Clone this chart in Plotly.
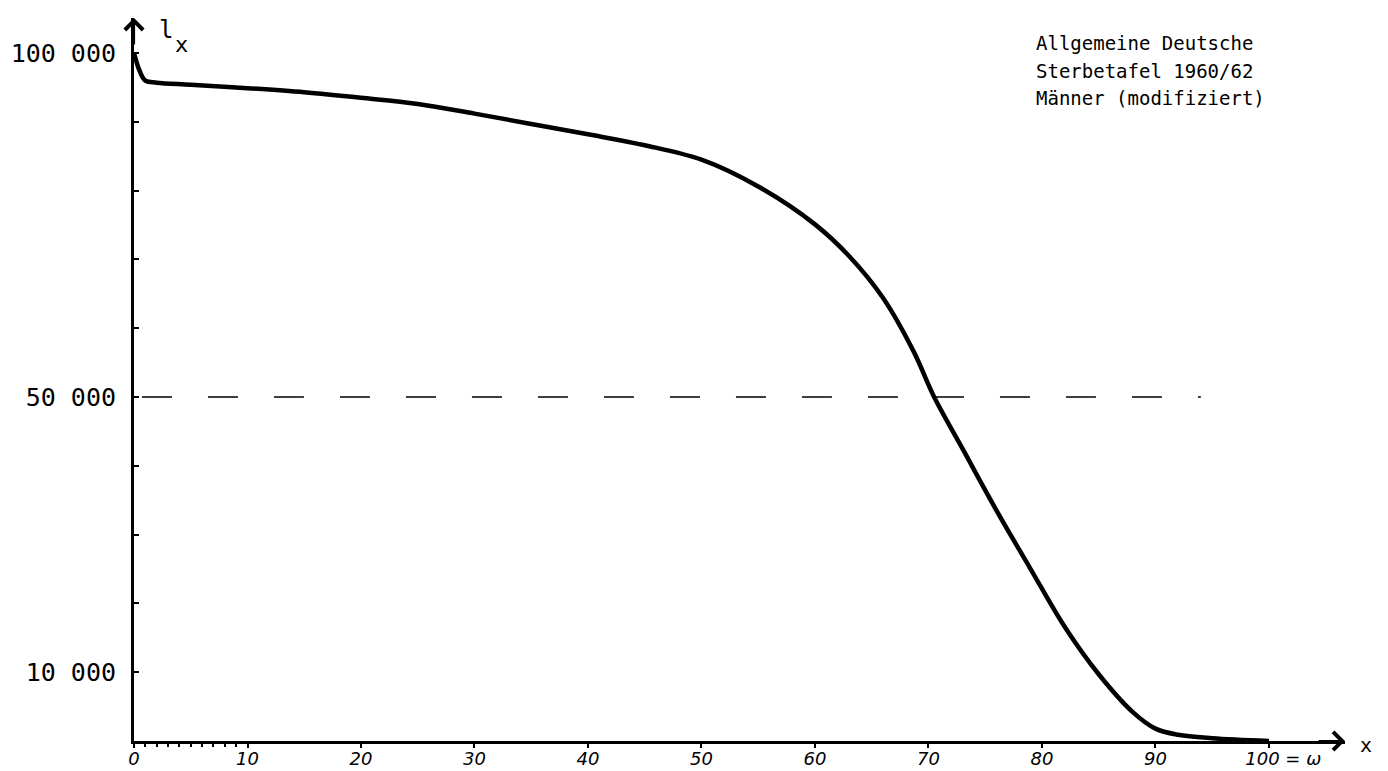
import plotly.graph_objects as go

# Survival curve l_x
ages = [0, 0.5, 1, 2, 5, 10, 15, 20, 25, 30, 35, 40, 45, 50, 55, 60, 63, 66,
        68.7, 70.5, 73, 76, 79, 82, 85, 88, 90, 92, 95, 100]
lx = [100000, 97400, 96000, 95700, 95400, 94900, 94300, 93500, 92600, 91200,
      89700, 88200, 86600, 84500, 80600, 75100, 70500, 64400, 56600, 50000,
      42500, 33500, 25000, 16600, 9700, 4200, 1800, 900, 400, 0]

# Reference line at half the cohort
half_x = [0.7, 94]
half_y = [50000, 50000]

x_tickvals = [0, 10, 20, 30, 40, 50, 60, 70, 80, 90, 100]
x_ticktext = ["0", "10", "20", "30", "40", "50", "60", "70", "80", "90",
              "\u00a0\u00a0\u00a0\u00a0\u00a0100 = ω"]
x_minor = [1, 2, 3, 4, 5, 6, 7, 8, 9]
y_tickvals = [10000, 50000, 100000]
y_ticktext = ["10 000", "50 000", "100 000"]
note_lines = ["Allgemeine Deutsche", "Sterbetafel 1960/62", "Männer (modifiziert)"]

X_MAX = 106.7
Y_MAX = 105100

fig = go.Figure()
fig.add_trace(go.Scatter(x=half_x, y=half_y, mode="lines",
                         line=dict(color="black", width=1.5, dash="30px,36px"),
                         hoverinfo="skip", showlegend=False))
fig.add_trace(go.Scatter(x=ages, y=lx, mode="lines",
                         line=dict(color="black", width=4.5, shape="spline", smoothing=1.0),
                         cliponaxis=False, showlegend=False))

mono = "DejaVu Sans Mono"
fig.update_layout(
    width=1380, height=763, autosize=False,
    margin=dict(l=126, r=43, t=10, b=30),
    paper_bgcolor="white", plot_bgcolor="white",
    showlegend=False,
    xaxis=dict(range=[0, X_MAX], showgrid=False, zeroline=False, automargin=False,
               showline=True, linewidth=3, linecolor="black",
               tickvals=x_tickvals, ticktext=x_ticktext,
               ticks="outside", ticklen=4, tickwidth=2, tickcolor="black",
               ticklabelstandoff=-5,
               tickfont=dict(family="DejaVu Sans", size=18, color="black", style="italic"),
               minor=dict(tickvals=x_minor, ticks="outside", ticklen=3, tickwidth=2,
                          tickcolor="black")),
    yaxis=dict(range=[0, Y_MAX], showgrid=False, zeroline=False, automargin=False,
               showline=True, linewidth=3, linecolor="black",
               tickvals=y_tickvals, ticktext=y_ticktext,
               ticks="inside", ticklen=5, tickwidth=2, tickcolor="black",
               ticklabelstandoff=10,
               tickfont=dict(family=mono, size=25, color="black"),
               minor=dict(dtick=10000, tick0=0, ticks="inside", ticklen=5, tickwidth=2,
                          tickcolor="black")),
)

annotations = []
# axis arrows
annotations.append(dict(x=0, y=Y_MAX, xref="x", yref="y", ax=0, ay=28,
                        showarrow=True, arrowhead=4, arrowsize=1.6, arrowwidth=2.2,
                        arrowcolor="black", text=""))
annotations.append(dict(x=X_MAX, y=0, xref="x", yref="y", ax=-28, ay=0,
                        showarrow=True, arrowhead=4, arrowsize=1.6, arrowwidth=2.2,
                        arrowcolor="black", text=""))
# axis labels
annotations.append(dict(x=2.8, y=103300, xref="x", yref="y", text="l", showarrow=False,
                        font=dict(family=mono, size=24, color="black")))
annotations.append(dict(x=4.2, y=101200, xref="x", yref="y", text="x", showarrow=False,
                        font=dict(family=mono, size=22, color="black")))
annotations.append(dict(x=1.024, y=0, xref="paper", yref="y", text="x", showarrow=False,
                        yshift=-4, font=dict(family=mono, size=20, color="black")))
# note text
note_y = [101400, 97400, 93400]
for t, yy in zip(note_lines, note_y):
    annotations.append(dict(x=79.3, y=yy, xref="x", yref="y", text=t, showarrow=False,
                            xanchor="left", yanchor="middle",
                            font=dict(family=mono, size=19, color="black")))
fig.update_layout(annotations=annotations)

fig.write_html("out.html")
